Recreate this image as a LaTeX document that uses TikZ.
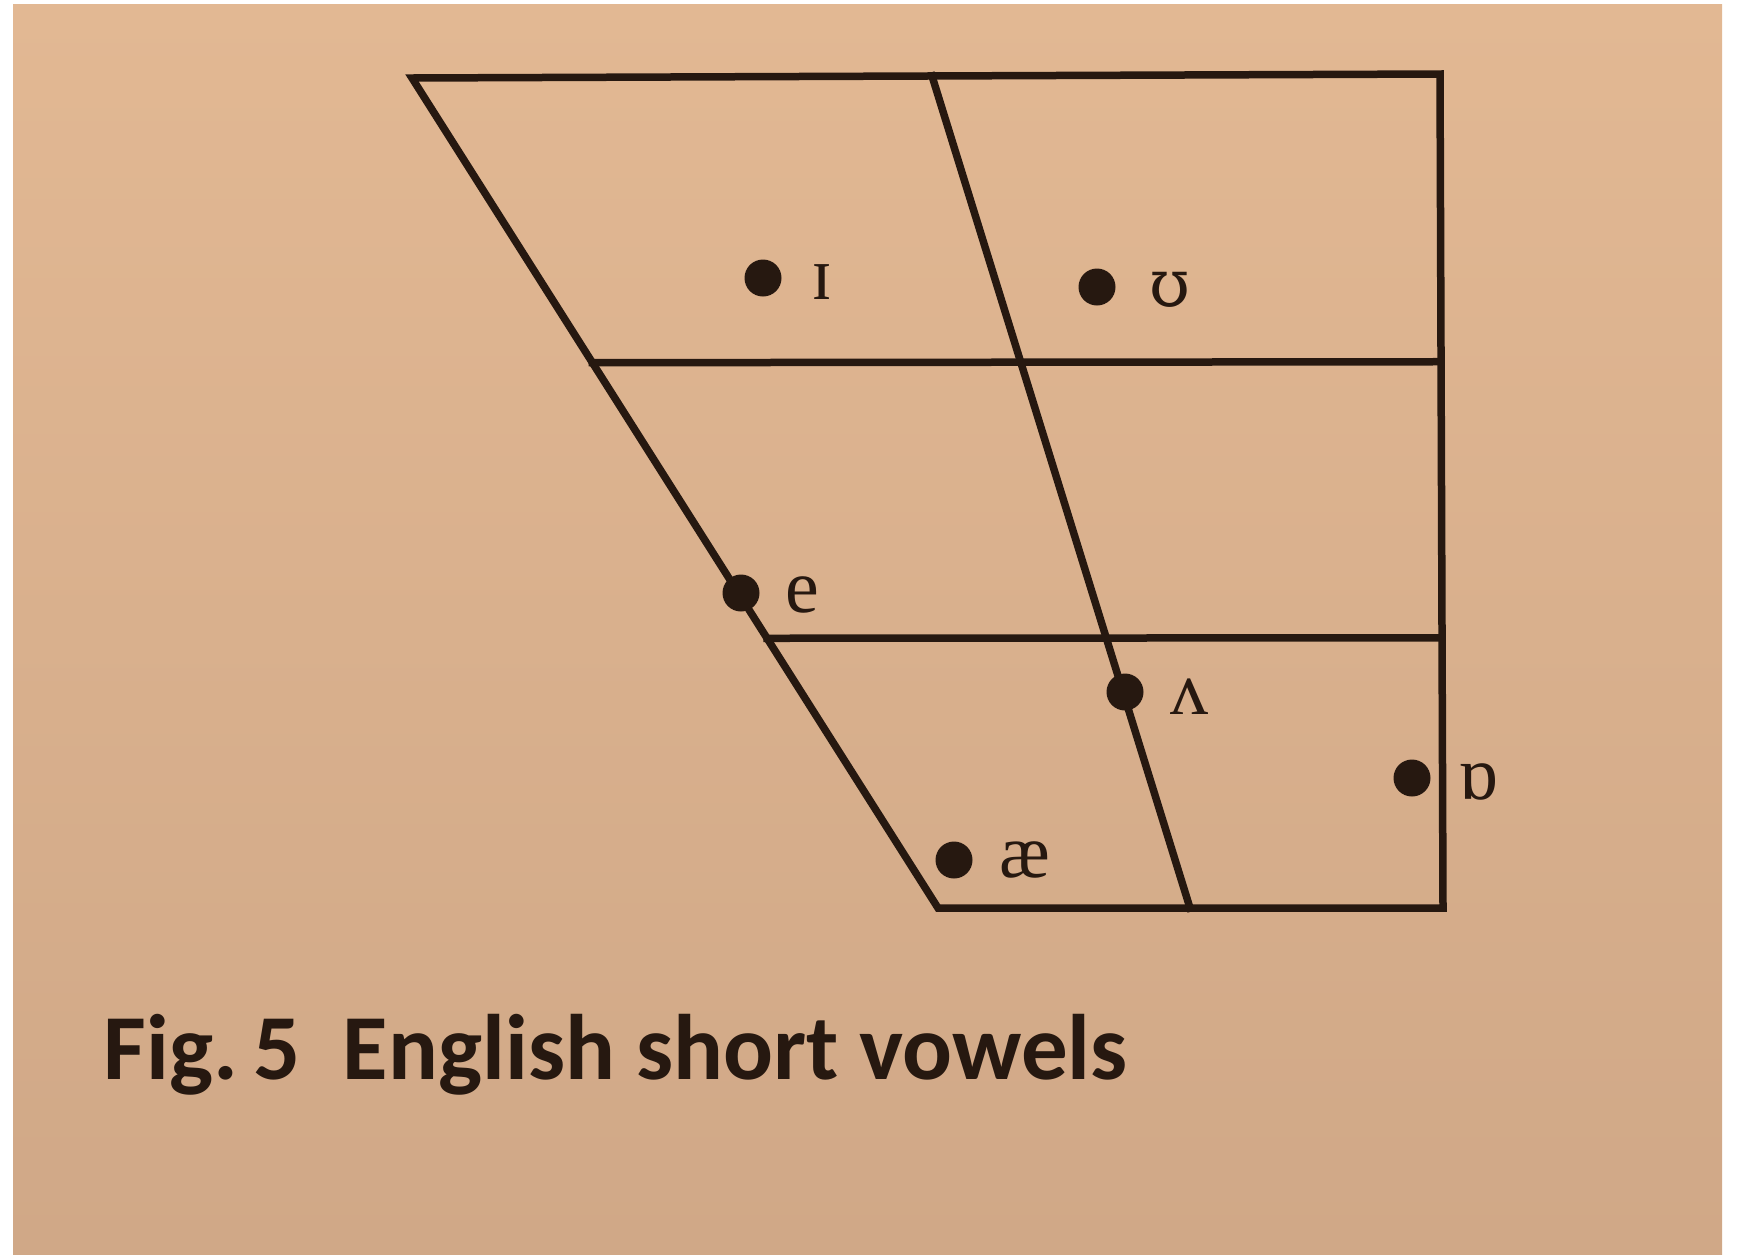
\documentclass[tikz,border=0pt]{standalone}
\usepackage{fontspec}
\usepackage{tikz}
\usetikzlibrary{calc,positioning}
\newfontfamily\ipafont{Liberation Serif}
\newfontfamily\ipaalt{DejaVu Serif}
\newfontfamily\capfont{Carlito}
\definecolor{paper}{RGB}{226,184,147}
\definecolor{paperdark}{RGB}{208,168,135}
\definecolor{ink}{RGB}{38,24,16}

\begin{document}
\begin{tikzpicture}[
    x=1pt, y=-1pt,
    line width=7.5pt,
    chartline/.style={draw=ink, line join=miter, line cap=rect},
    vdot/.style={circle, fill=ink, minimum size=37pt, inner sep=0pt},
    vlabel/.style={text=ink, inner sep=0pt, font=\ipafont\fontsize{76}{80}\selectfont}
]
  % page
  \fill[white] (0,0) rectangle (1737,1254);
  \shade[top color=paper, bottom color=paperdark] (13,4) rectangle (1722,1254);
  \useasboundingbox (0,0) rectangle (1737,1254);

  % chart corners
  \coordinate (TL) at (412,78);
  \coordinate (TR) at (1440,74);
  \coordinate (BR) at (1443,908);
  \coordinate (BL) at (938,908);
  \coordinate (MT) at (932,76);
  \coordinate (MB) at (1190,908);
  \coordinate (H1L) at ($(TL)!0.343!(BL)$);
  \coordinate (H1R) at ($(TR)!0.345!(BR)$);
  \coordinate (H2L) at ($(TL)!0.675!(BL)$);
  \coordinate (H2R) at ($(TR)!0.676!(BR)$);

  % chart
  \draw[chartline] (TL) -- (TR) -- (BR) -- (BL) -- cycle;
  \draw[chartline] (MT) -- (MB);
  \draw[chartline] (H1L) -- (H1R);
  \draw[chartline] (H2L) -- (H2R);

  % vowels
  \node[vdot] (i) at (763,278) {};
  \node[vdot] (u) at (1097,287) {};
  \node[vdot] (e) at (741,593) {};
  \node[vdot] (v) at (1125,692) {};
  \node[vdot] (o) at (1412,778) {};
  \node[vdot] (ae) at (954,860) {};

  \node[vlabel] (il) at (822,282) {ɪ};
  \node[vlabel, font=\ipaalt\fontsize{66}{70}\selectfont] (ul) at (1170,290) {ʊ};
  \node[vlabel] (el) at (802,595) {e};
  \node[vlabel] (vl) at (1189,697) {ʌ};
  \node[vlabel] (ol) at (1478,782) {ɒ};
  \node[vlabel] (ael) at (1025,860) {æ};

  % caption
  \node[anchor=base west, inner sep=0pt, text=ink,
        font=\capfont\bfseries\fontsize{93}{100}\selectfont] (cap) at (100,1079)
        {Fig.\,5\ \ English short vowels};
\end{tikzpicture}
\end{document}
